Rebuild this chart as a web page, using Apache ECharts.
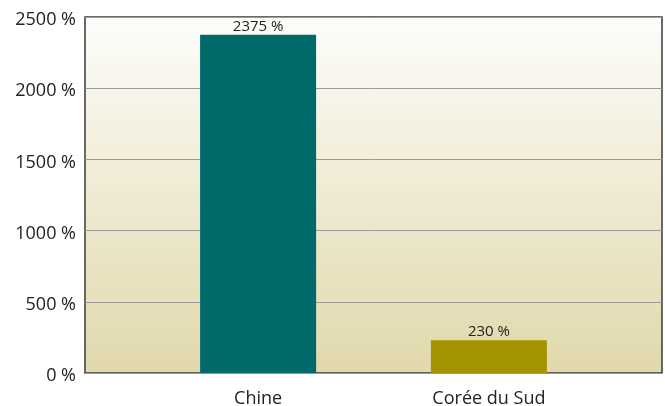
<!DOCTYPE html>
<html><head><meta charset="utf-8">
<script src="https://cdn.jsdelivr.net/npm/echarts@6/dist/echarts.min.js"></script>
<style>html,body{margin:0;padding:0;background:#fff}#c{width:665px;height:406px}</style>
</head><body><div id="c"></div>
<script>
const categories = ['Chine', 'Corée du Sud'];
const values = [2375, 230];
const barColors = ['#006a6b', '#a39300'];
const yTicks = [0, 500, 1000, 1500, 2000, 2500];

const chart = echarts.init(document.getElementById('c'), null, {renderer: 'canvas'});
const font = '"Open Sans", "Noto Sans", sans-serif';
chart.setOption({
  animation: false,
  grid: {
    left: 85, right: 3, top: 17, bottom: 33, show: true, outerBoundsMode: 'none',
    borderColor: '#3a3a3a', borderWidth: 1.5,
    backgroundColor: new echarts.graphic.LinearGradient(0, 0, 0, 1, [
      {offset: 0, color: '#fdfdfb'}, {offset: 1, color: '#e1d8ab'}
    ])
  },
  xAxis: {
    type: 'value', min: -0.75, max: 1.75, interval: 0.25,
    axisLine: {show: false}, axisTick: {show: false}, splitLine: {show: false},
    axisLabel: {
      margin: 17, color: '#222', fontSize: 18, fontFamily: font,
      showMinLabel: false, showMaxLabel: false,
      formatter: v => (Math.abs(v - Math.round(v)) < 1e-9 && categories[Math.round(v)]) ? categories[Math.round(v)] : ''
    }
  },
  yAxis: {
    type: 'value', min: yTicks[0], max: yTicks[yTicks.length - 1], interval: 500,
    axisLine: {show: false}, axisTick: {show: false},
    splitLine: {lineStyle: {color: '#9a9a9a', width: 1}},
    axisLabel: {margin: 9, color: '#222', fontSize: 18, fontFamily: font,
      formatter: v => '{a|' + v + ' %}',
      rich: {a: {fontSize: 18, fontFamily: font, color: '#222', padding: [6, 0, 0, 0]}}}
  },
  series: [{
    type: 'bar', barWidth: 116,
    data: values.map((v, i) => ({value: [i, v], itemStyle: {color: barColors[i]}})),
    label: {show: true, position: 'top', distance: 1, color: '#222', fontSize: 15, fontFamily: font,
      formatter: p => p.value[1] + ' %'}
  }]
});
</script></body></html>
